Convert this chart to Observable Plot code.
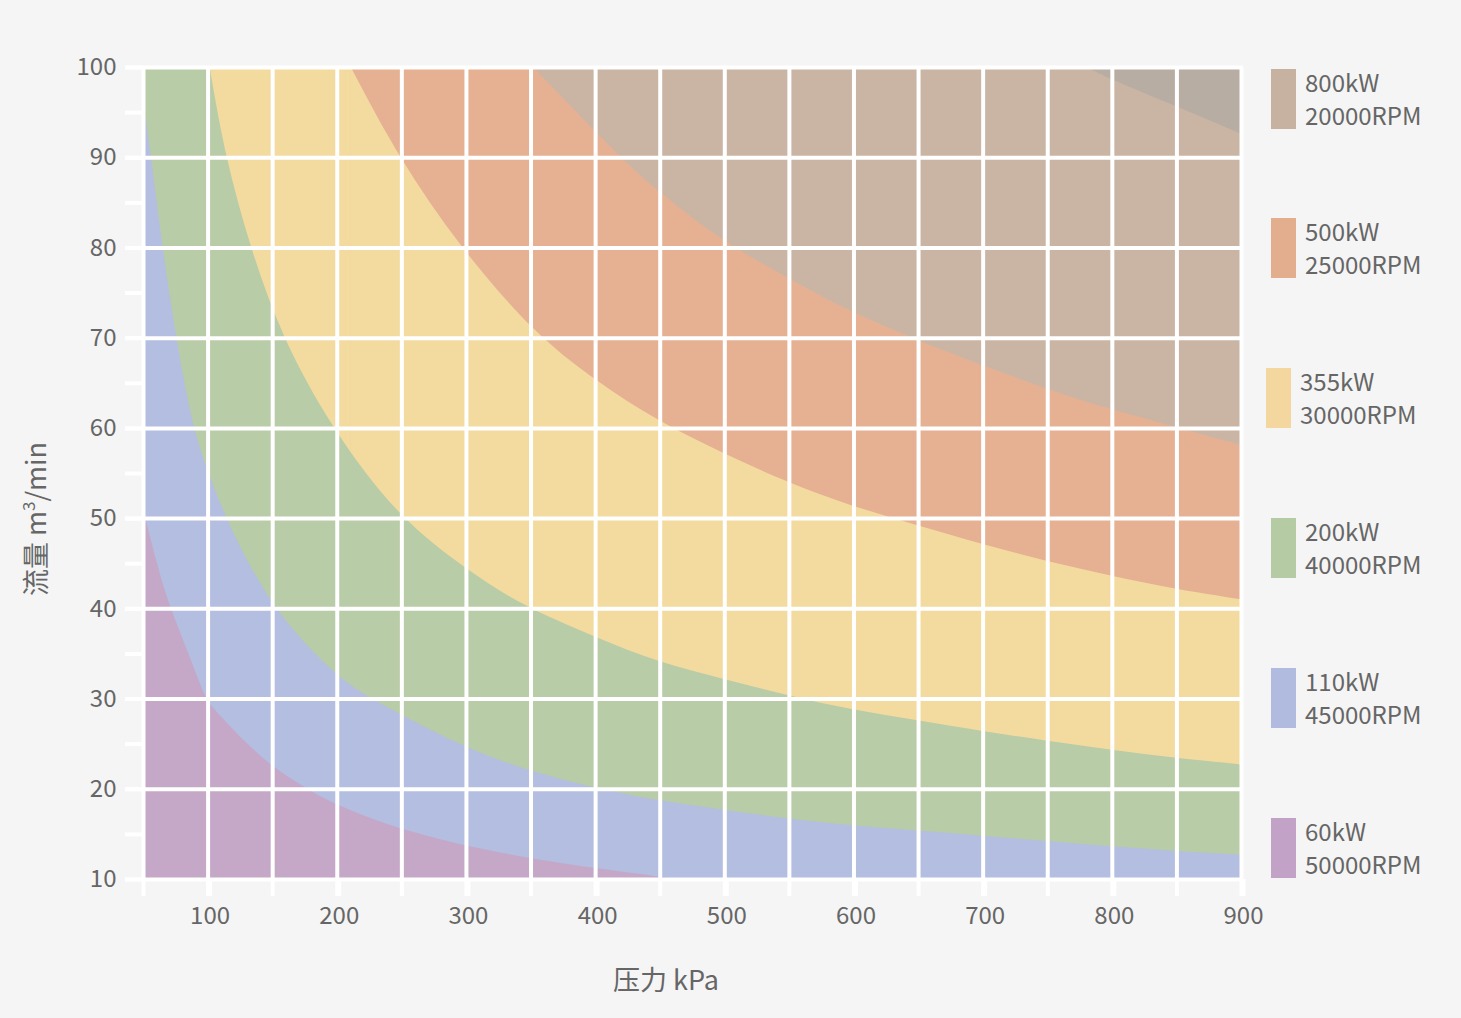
<!DOCTYPE html>
<html>
<head>
<meta charset="utf-8">
<script src="https://cdn.jsdelivr.net/npm/d3@7"></script>
<script src="https://cdn.jsdelivr.net/npm/@observablehq/plot@0.6"></script>
<style>
  html, body { margin: 0; padding: 0; background: #f5f5f5; }
  #wrap { position: relative; width: 1461px; height: 1018px; font-family: "Noto Sans CJK SC", "Noto Sans", sans-serif; color: #666; }
  .ttl { position: absolute; font-size: 27px; white-space: nowrap; color: #666; }
  .sw { position: absolute; width: 25px; height: 60px; }
  .lt { position: absolute; font-size: 24px; line-height: 33px; color: #666; white-space: nowrap; }
</style>
</head>
<body>
<div id="wrap"></div>
<script>
// ---- data: boundary flow (m3/min) at each pressure (kPa) ----
// series that start above the top of the chart begin with a capped point at 100
const p60  = [50, 62, 71, 86.6, 98.2, 102, 125, 151, 177, 197, 228, 254, 280, 306, 342, 399, 449, 465];
const q60  = [51, 44.2, 40.1, 34.5, 30.1, 29.3, 25.7, 22.3, 20, 18.4, 16.6, 15.4, 14.4, 13.5, 12.5, 11.2, 10.3, 10];

const p110 = [50, 56.4, 64.9, 75.5, 88.4, 100, 113.7, 149, 199, 226, 298, 342, 399, 449, 499, 548, 600, 650, 700, 750, 800, 850, 900];
const q110 = [96.3, 90, 80, 70, 60, 55.3, 50, 40, 32.5, 30, 24.6, 22.3, 20.1, 18.7, 17.7, 16.7, 15.9, 15.4, 14.8, 14.2, 13.6, 13.1, 12.7];

const p200 = [50, 101.5, 113.7, 133, 157.5, 196, 247.7, 301.8, 342, 399, 449, 499, 548, 597, 650, 700, 750, 800, 850, 900];
const q200 = [100, 100, 90, 80, 70, 60, 50, 44.2, 40.4, 36.9, 34, 32.2, 30.4, 28.8, 27.6, 26.4, 25.3, 24.3, 23.4, 22.7];

const p355 = [50, 210.8, 247.7, 295.4, 352, 398.6, 449, 499.3, 548, 597, 650, 700, 750, 800, 850, 900];
const q355 = [100, 100, 90, 80, 70.6, 65.4, 60.7, 57.2, 54, 51.4, 49.2, 47.1, 45.2, 43.6, 42.1, 41];

const p500 = [50, 352, 419, 449, 498, 548.3, 597, 650, 700, 750, 800, 850, 900];
const q500 = [100, 100, 90, 86.2, 80.7, 76.7, 72.9, 69.7, 66.9, 64.3, 62, 60.1, 58.1];

const p800 = [780, 798.5, 847.4, 900];
const q800 = [100, 98.7, 95.8, 92.6];

const powers = ["800kW", "500kW", "355kW", "200kW", "110kW", "60kW"];
const speeds = ["20000RPM", "25000RPM", "30000RPM", "40000RPM", "45000RPM", "50000RPM"];
const areaColors = ["#cab5a5", "#e6b093", "#f3da9f", "#b8cca7", "#b3bee0", "#c5a8c8"];
const swatchColors = ["#c7b2a1", "#e3ae8d", "#f4d79e", "#b5cba3", "#b1bbe0", "#c2a2c6"];
const beyondColor = "#b8ada2";

const xGrid = d3.range(50, 901, 50);
const xLabels = d3.range(100, 901, 100);
const yGrid = d3.range(10, 101, 10);
const yTicks = d3.range(10, 101, 5);

const zip = (ps, qs) => ps.map((p, i) => ({p, q: qs[i]}));
const d60 = zip(p60, q60), d110 = zip(p110, q110), d200 = zip(p200, q200),
      d355 = zip(p355, q355), d500 = zip(p500, q500), d800 = zip(p800, q800);

const smooth = "basis";

// area under a boundary; if the series starts with a capped (flow = 100) run,
// draw that run linearly and the rest as a smooth curve
function bandMarks(data, color, capped) {
  if (!capped) return [Plot.areaY(data, {x: "p", y1: 10, y2: "q", fill: color, curve: smooth})];
  return [
    Plot.areaY(data.slice(0, 2), {x: "p", y1: 10, y2: "q", fill: color, stroke: color, strokeWidth: 1, curve: "linear"}),
    Plot.areaY(data.slice(1), {x: "p", y1: 10, y2: "q", fill: color, curve: smooth})
  ];
}

const chart = Plot.plot({
  width: 1461,
  height: 1018,
  marginLeft: 143,
  marginRight: 220,
  marginTop: 67,
  marginBottom: 139,
  style: {background: "transparent", fontFamily: "'Noto Sans CJK SC', 'Noto Sans', sans-serif", fontSize: "24px", color: "#666"},
  x: {domain: [50, 900]},
  y: {domain: [10, 100]},
  marks: [
    Plot.frame({fill: areaColors[0], stroke: null}),
    Plot.areaY(d800, {x: "p", y1: "q", y2: 100, fill: beyondColor, curve: smooth}),
    ...bandMarks(d500, areaColors[1], true),
    ...bandMarks(d355, areaColors[2], true),
    ...bandMarks(d200, areaColors[3], true),
    ...bandMarks(d110, areaColors[4], false),
    ...bandMarks(d60,  areaColors[5], false),
    Plot.ruleY(yGrid, {stroke: "white", strokeWidth: 4, insetLeft: -18, insetRight: -2}),
    Plot.ruleX(xGrid, {stroke: "white", strokeWidth: 4, insetBottom: -17}),
    Plot.axisY(yTicks, {tickSize: 18, tickPadding: 9, stroke: "white", strokeWidth: 4, fill: "#666",
      tickFormat: d => d % 10 === 0 ? String(d) : "", label: null, fontSize: 24}),
    Plot.axisX(xLabels, {tickSize: 17, tickPadding: 10, stroke: "white", strokeWidth: 4, fill: "#666",
      tickFormat: d => String(d), label: null, fontSize: 24, dx: 2})
  ]
});

const wrap = document.getElementById("wrap");
chart.style.position = "absolute";
chart.style.left = "0px";
chart.style.top = "0px";
wrap.appendChild(chart);

// axis titles
const xt = document.createElement("div");
xt.className = "ttl";
xt.textContent = "压力 kPa";
xt.style.left = "666px"; xt.style.top = "978px";
xt.style.transform = "translate(-50%, -50%)";
wrap.appendChild(xt);

const yt = document.createElement("div");
yt.className = "ttl";
yt.innerHTML = "流量 m<sup style='font-size:17px;vertical-align:0;position:relative;top:-11px'>3</sup>/min";
yt.style.left = "34px"; yt.style.top = "519px";
yt.style.transform = "translate(-50%, -50%) rotate(-90deg)";
wrap.appendChild(yt);

// legend
const legendTops = [69, 218, 368, 518, 668, 818];
const legendShift = [0, 0, -5, 0, 0, 0];
powers.forEach((pw, i) => {
  const sw = document.createElement("div");
  sw.className = "sw";
  sw.style.background = swatchColors[i];
  sw.style.left = (1271 + legendShift[i]) + "px";
  sw.style.top = legendTops[i] + "px";
  wrap.appendChild(sw);
  const t = document.createElement("div");
  t.className = "lt";
  t.innerHTML = pw + "<br>" + speeds[i];
  t.style.left = (1305 + legendShift[i]) + "px";
  t.style.top = (legendTops[i] - 4) + "px";
  wrap.appendChild(t);
});
</script>
</body>
</html>
